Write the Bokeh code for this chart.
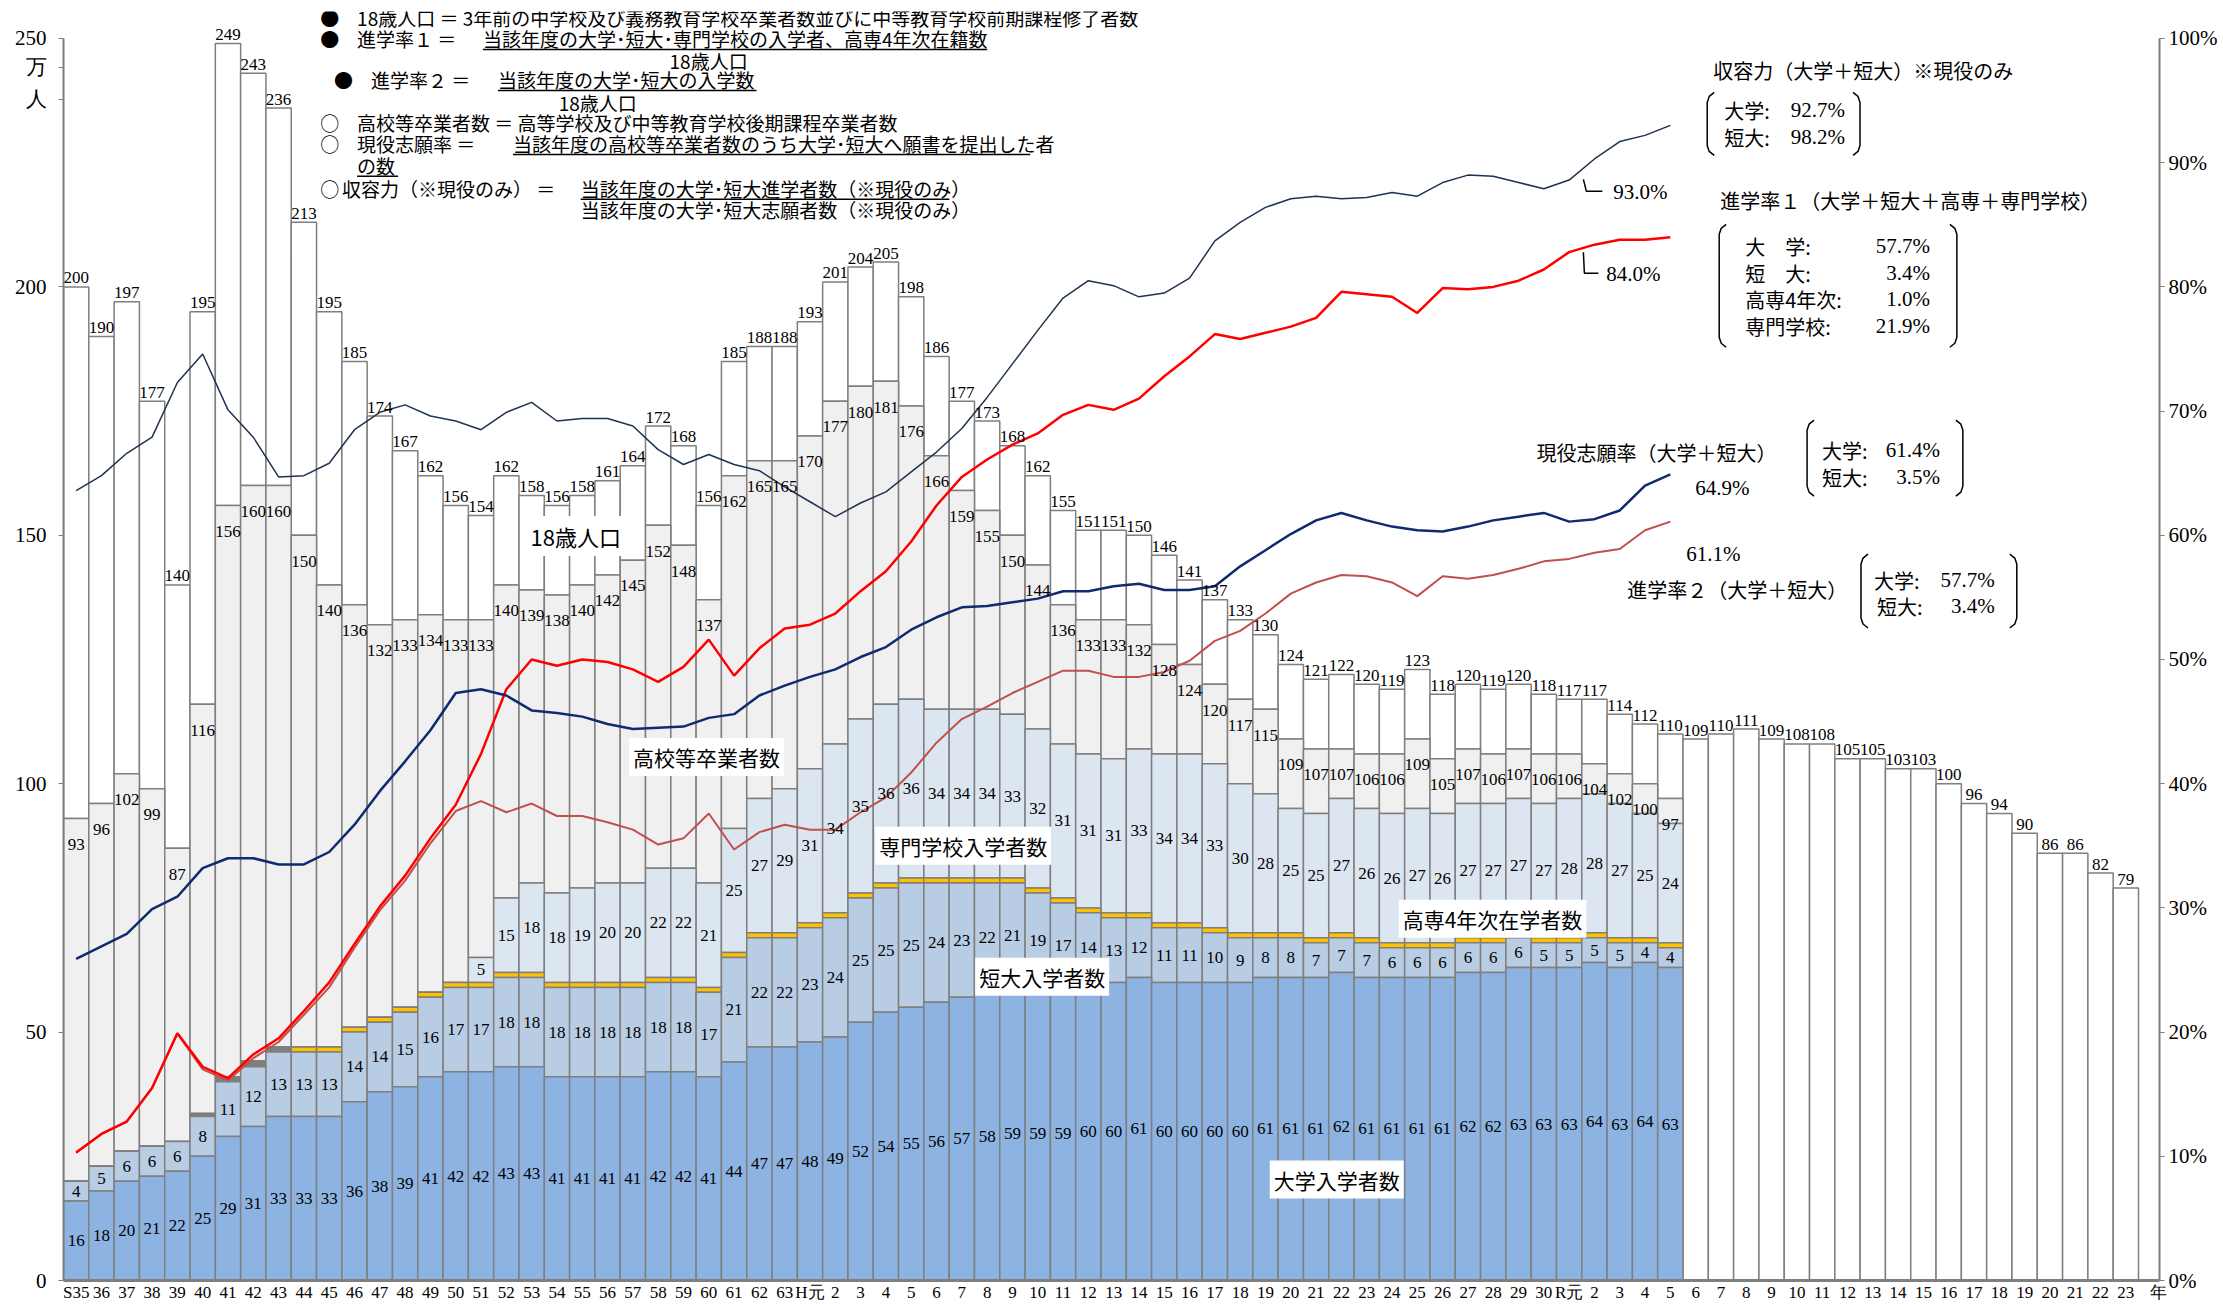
from bokeh.plotting import figure
from bokeh.models import Range1d, LinearAxis, FixedTicker, Label, PrintfTickFormatter
from bokeh.core.properties import value
from bokeh.embed import file_html
from bokeh.resources import INLINE

# ---------------- data ----------------
x_labels = ["35","36","37","38","39","40","41","42","43","44","45","46","47","48","49","50","51","52","53","54",
            "55","56","57","58","59","60","61","62","63",
            "元","2","3","4","5","6","7","8","9","10","11","12","13","14","15","16","17","18","19","20",
            "21","22","23","24","25","26","27","28","29","30",
            "元","2","3","4","5",
            "6","7","8","9","10","11","12","13","14","15","16","17","18","19","20","21","22","23"]
era_labels = ["S", "H", "R"]
era_index = [0, 29, 59]
year_unit = "年"
y_unit = ["万", "人"]

pop18 = [200,190,197,177,140,195,249,243,236,213,195,185,174,167,162,156,154,162,158,156,
         158,161,164,172,168,156,185,188,188,
         193,201,204,205,198,186,177,173,168,162,155,151,151,150,146,141,137,133,130,124,
         121,122,120,119,123,118,120,119,120,118,
         117,117,114,112,110,
         109,110,111,109,108,108,105,105,103,103,100,96,94,90,86,86,82,79]
grads = [93,96,102,99,87,116,156,160,160,150,140,136,132,133,134,133,133,140,139,138,
         140,142,145,152,148,137,162,165,165,
         170,177,180,181,176,166,159,155,150,144,136,133,133,132,128,124,120,117,115,109,
         107,107,106,106,109,105,107,106,107,106,
         106,104,102,100,97]
univ = [16,18,20,21,22,25,29,31,33,33,33,36,38,39,41,42,42,43,43,41,
        41,41,41,42,42,41,44,47,47,
        48,49,52,54,55,56,57,58,59,59,59,60,60,61,60,60,60,60,61,61,
        61,62,61,61,61,61,62,62,63,63,
        63,64,63,64,63]
jc = [4,5,6,6,6,8,11,12,13,13,13,14,14,15,16,17,17,18,18,18,
      18,18,18,18,18,17,21,22,22,
      23,24,25,25,25,24,23,22,21,19,17,14,13,12,11,11,10,9,8,8,
      7,7,7,6,6,6,6,6,6,5,
      5,5,5,4,4]
kosen = [0,0,0,0,0,0.6,1.0,1.2,1.0,1,1,1,1,1,1,1,1,1,1,1,
         1,1,1,1,1,1,1,1,1,
         1,1,1,1,1,1,1,1,1,1,1,1,1,1,1,1,1,1,1,1,
         1,1,1,1,1,1,1,1,1,1,
         1,1,1,1,1]
voc = [0,0,0,0,0,0,0,0,0,0,0,0,0,0,0,0,5,15,18,18,
       19,20,20,22,22,21,25,27,29,
       31,34,35,36,36,34,34,34,33,32,31,31,31,33,34,34,33,30,28,25,
       25,27,26,26,27,26,27,27,27,27,
       28,28,27,25,24]

shuyo = [63.6,64.8,66.6,67.9,72.3,74.6,70.1,67.9,64.7,64.8,65.8,68.5,69.9,70.5,69.6,69.2,68.5,69.9,70.7,69.2,
         69.4,69.4,68.8,66.9,65.7,66.5,65.7,65.2,63.9,
         62.7,61.5,62.6,63.5,65.1,66.7,68.6,71.1,73.8,76.5,79.1,80.5,80.1,79.2,79.5,80.7,83.7,85.2,86.4,87.1,
         87.3,87.1,87.2,87.6,87.3,88.4,89.0,88.9,88.4,87.9,
         88.6,90.3,91.7,92.2,93.0]
shingaku1 = [10.3,11.8,12.8,15.5,19.9,17.2,16.3,18.2,19.5,21.7,24.0,27.1,30.1,32.6,35.6,38.3,42.4,47.6,50.0,49.5,
             50.0,49.8,49.2,48.2,49.4,51.6,48.7,50.9,52.5,
             52.8,53.7,55.5,57.1,59.5,62.4,64.7,66.1,67.3,68.2,69.7,70.5,70.1,71.0,72.8,74.4,76.2,75.8,76.3,76.8,
             77.5,79.6,79.4,79.2,77.9,79.9,79.8,80.0,80.5,81.4,
             82.8,83.4,83.8,83.8,84.0]
shingaku2 = [10.3,11.8,12.8,15.5,19.9,17.0,16.1,17.9,19.2,21.4,23.6,26.8,29.8,32.2,35.2,37.8,38.6,37.7,38.4,37.4,
             37.4,36.9,36.3,35.1,35.6,37.6,34.7,36.1,36.7,
             36.3,36.3,37.7,38.9,40.9,43.3,45.2,46.2,47.3,48.2,49.1,49.1,48.6,48.6,49.0,49.9,51.5,52.3,53.7,55.3,
             56.2,56.8,56.7,56.2,55.1,56.7,56.5,56.8,57.3,57.9,
             58.1,58.6,58.9,60.4,61.1]
genneki = [25.9,26.9,27.9,29.9,30.9,33.2,34.0,34.0,33.5,33.5,34.5,36.7,39.4,41.8,44.3,47.3,47.6,47.1,45.9,45.7,
           45.4,44.8,44.4,44.5,44.6,45.3,45.6,47.1,47.9,
           48.6,49.2,50.2,51.0,52.4,53.4,54.2,54.3,54.6,54.9,55.5,55.5,55.9,56.1,55.6,55.6,55.9,57.5,58.8,60.1,
           61.2,61.8,61.2,60.7,60.4,60.3,60.7,61.2,61.5,61.8,
           61.1,61.3,62.0,64.0,64.9]

# ---------------- layout helpers ----------------
NARROW = "Liberation Sans Narrow"
JP = "Noto Sans CJK JP"
GRAY = "#7F7F7F"

W, H = 2220, 1304
FRAME_L, FRAME_B = 63, 1281
YMAX = 255.43
XMAX = 82.33
PCT_SCALE = 2.5


def X(px):
    return (px - FRAME_L) / 25.34 - 0.5


def Y(py):
    return (FRAME_B - py) / 4.972


p = figure(width=W, height=H, x_range=Range1d(-0.5, XMAX), y_range=Range1d(0, YMAX),
           output_backend="svg", toolbar_location=None,
           min_border_left=63, min_border_right=58, min_border_top=11, min_border_bottom=23)
p.extra_y_ranges = {"pct": Range1d(0, YMAX / PCT_SCALE)}
p.xgrid.visible = False
p.ygrid.visible = False
p.outline_line_color = None
p.background_fill_color = "white"

# left axis (unit "万人" shown as the top-most tick labels, as in the reference)
unit_pos = [Y(67), Y(99)]
ly = p.yaxis[0]
ly.ticker = FixedTicker(ticks=[0, 50, 100, 150, 200, 250] + unit_pos)
ly.major_label_overrides = {unit_pos[0]: y_unit[0], unit_pos[1]: y_unit[1]}
ly.bounds = (0, 250)
ly.axis_line_color = GRAY
ly.axis_line_width = 2
ly.major_tick_line_color = GRAY
ly.major_tick_out = 5
ly.major_tick_in = 0
ly.minor_tick_line_color = None
ly.major_label_standoff = 12
ly.major_label_text_font = NARROW
ly.major_label_text_font_size = "21px"
ly.major_label_text_color = "black"

# right axis
ry = LinearAxis(y_range_name="pct", ticker=FixedTicker(ticks=[0, 10, 20, 30, 40, 50, 60, 70, 80, 90, 100]),
                formatter=PrintfTickFormatter(format="%d%%"), bounds=(0, 100))
ry.axis_line_color = GRAY
ry.axis_line_width = 2
ry.major_tick_line_color = GRAY
ry.major_tick_out = 5
ry.major_tick_in = 0
ry.minor_tick_line_color = None
ry.major_label_standoff = 4
ry.major_label_text_font = NARROW
ry.major_label_text_font_size = "21px"
ry.major_label_text_color = "black"
p.add_layout(ry, "right")

# bottom axis: year numbers (era letter prefixed at the first year of each era) + "年"
n_all = len(pop18)
n = len(grads)
year_pos = XMAX - 0.03
overrides = {i: lab for i, lab in enumerate(x_labels)}
for e, idx in zip(era_labels, era_index):
    overrides[idx] = e + x_labels[idx]
overrides[year_pos] = year_unit
xa = p.xaxis[0]
xa.ticker = FixedTicker(ticks=list(range(n_all)) + [year_pos])
xa.major_label_overrides = overrides
xa.axis_line_color = GRAY
xa.axis_line_width = 3
xa.major_tick_out = 0
xa.major_tick_in = 0
xa.minor_tick_line_color = None
xa.major_label_standoff = 2
xa.major_label_text_font = NARROW
xa.major_label_text_font_size = "17px"
xa.major_label_text_color = "black"

# ---------------- stacked bars ----------------
xs = list(range(n))
xs_all = list(range(n_all))
b2 = [u + j for u, j in zip(univ, jc)]
b3 = [a + k for a, k in zip(b2, kosen)]
b4 = [a + v for a, v in zip(b3, voc)]
kosen_colors = [GRAY if 5 <= i <= 8 else "#FFC000" for i in xs]
pop_bottom = grads + [0] * (n_all - n)

bar_kw = dict(width=1.0, line_color=GRAY, line_width=1.5)
p.vbar(x=xs_all, bottom=pop_bottom, top=pop18, fill_color="white", **bar_kw)
p.vbar(x=xs, bottom=b4, top=grads, fill_color="#F0F0F0", **bar_kw)
p.vbar(x=xs, bottom=b3, top=b4, fill_color="#DCE6F1", **bar_kw)
p.vbar(x=xs, bottom=b2, top=b3, fill_color=kosen_colors, **bar_kw)
p.vbar(x=xs, bottom=univ, top=b2, fill_color="#B8CCE4", **bar_kw)
p.vbar(x=xs, bottom=0, top=univ, fill_color="#8DB3E2", **bar_kw)

# ---------------- lines ----------------
p.line(xs, shingaku2, y_range_name="pct", line_color="#C0504D", line_width=2)
p.line(xs, shingaku1, y_range_name="pct", line_color="#FF0000", line_width=2.5)
p.line(xs, genneki, y_range_name="pct", line_color="#0F2A6E", line_width=2.5)
p.line(xs, shuyo, y_range_name="pct", line_color="#1F3350", line_width=1.5)

# ---------------- value labels ----------------
tkw = dict(text_font=value(NARROW), text_font_size="17px", text_color="black", text_align="center")
p.text(x=xs_all, y=[v + 0.7 for v in pop18], text=[str(v) for v in pop18], text_baseline="bottom", **tkw)
p.text(x=xs, y=[g - 5.2 for g in grads], text=[str(v) for v in grads], text_baseline="middle", **tkw)
p.text(x=xs, y=[u / 2 for u in univ], text=[str(v) for v in univ], text_baseline="middle", **tkw)
p.text(x=xs, y=[u + j / 2 for u, j in zip(univ, jc)], text=[str(v) for v in jc], text_baseline="middle", **tkw)
vx = [i for i in xs if voc[i] > 0]
p.text(x=vx, y=[b3[i] + voc[i] / 2 for i in vx], text=[str(voc[i]) for i in vx], text_baseline="middle", **tkw)


# ---------------- annotations ----------------
def lab(text, px, py, size=19, align="left", font=JP, bg=None):
    kw = {}
    if bg:
        kw = dict(background_fill_color=bg, padding=4)
    p.add_layout(Label(x=X(px), y=Y(py), text=text, text_font=font, text_font_size=f"{size}px",
                       text_align=align, text_baseline="middle", text_color="black", **kw))


def pline(pts, color="black", width=1.5):
    p.line([X(a) for a, b in pts], [Y(b) for a, b in pts], line_color=color, line_width=width)


def bracket(x0, y0, x1, y1):
    pline([(x0 + 7, y0), (x0 + 2, y0 + 4), (x0, y0 + 10), (x0, y1 - 10), (x0 + 2, y1 - 4), (x0 + 7, y1)])
    pline([(x1 - 7, y0), (x1 - 2, y0 + 4), (x1, y0 + 10), (x1, y1 - 10), (x1 - 2, y1 - 4), (x1 - 7, y1)])


# formula block
lab("●", 320, 17); lab("18歳人口 ＝ 3年前の中学校及び義務教育学校卒業者数並びに中等教育学校前期課程修了者数", 357, 17)
lab("●", 320, 38); lab("進学率１ ＝", 357, 38)
lab("当該年度の大学･短大･専門学校の入学者、高専4年次在籍数", 483, 38)
lab("18歳人口", 709, 60, align="center")
lab("●", 334, 79); lab("進学率２ ＝", 371, 79)
lab("当該年度の大学･短大の入学数", 498, 79)
lab("18歳人口", 598, 102, align="center")
lab("○", 320, 122); lab("高校等卒業者数 ＝ 高等学校及び中等教育学校後期課程卒業者数", 357, 122)
lab("○", 320, 143); lab("現役志願率 ＝", 357, 143)
lab("当該年度の高校等卒業者数のうち大学･短大へ願書を提出した者", 513, 143)
lab("の数", 357, 165)
lab("○", 320, 188); lab("収容力（※現役のみ） ＝", 342, 188)
lab("当該年度の大学･短大進学者数（※現役のみ）", 581, 188)
lab("当該年度の大学･短大志願者数（※現役のみ）", 581, 209)
for (xa0, xa1, yy) in [(483, 988, 49), (498, 757, 90), (513, 1031, 154), (357, 398, 176), (581, 950, 199)]:
    pline([(xa0, yy), (xa1, yy)], width=1.5)

# series name labels
lab("18歳人口", 576, 536, size=22, align="center", bg="white")
lab("高校等卒業者数", 707, 757, size=21, align="center", bg="white")
lab("専門学校入学者数", 964, 846, size=21, align="center", bg="white")
lab("短大入学者数", 1043, 977, size=21, align="center", bg="white")
lab("高専4年次在学者数", 1494, 919, size=21, align="center", bg="white")
lab("大学入学者数", 1338, 1180, size=21, align="center", bg="white")

# right-hand annotations
lab("収容力（大学＋短大）※現役のみ", 1715, 70, size=20)
bracket(1709, 92, 1862, 155)
lab("大学:", 1726, 110, size=20); lab("92.7%", 1847, 110, size=21, align="right", font=NARROW)
lab("短大:", 1726, 137, size=20); lab("98.2%", 1847, 137, size=21, align="right", font=NARROW)
pline([(1585, 179), (1588, 191), (1604, 191)])
lab("93.0%", 1615, 192, size=21, font=NARROW)

lab("進学率１（大学＋短大＋高専＋専門学校）", 1722, 200, size=20)
bracket(1721, 224, 1959, 347)
for name, val, yy in [("大　学:", "57.7%", 246), ("短　大:", "3.4%", 273),
                      ("高専4年次:", "1.0%", 299), ("専門学校:", "21.9%", 326)]:
    lab(name, 1747, yy, size=20)
    lab(val, 1932, yy, size=21, align="right", font=NARROW)
pline([(1585, 252), (1586, 273), (1600, 273)])
lab("84.0%", 1608, 274, size=21, font=NARROW)

lab("現役志願率（大学＋短大）", 1538, 452, size=20)
lab("64.9%", 1697, 488, size=21, font=NARROW)
bracket(1809, 420, 1965, 496)
lab("大学:", 1824, 450, size=20); lab("61.4%", 1942, 450, size=21, align="right", font=NARROW)
lab("短大:", 1824, 477, size=20); lab("3.5%", 1942, 477, size=21, align="right", font=NARROW)

lab("61.1%", 1688, 554, size=21, font=NARROW)
lab("進学率２（大学＋短大）", 1629, 589, size=20)
bracket(1863, 554, 2019, 628)
lab("大学:", 1876, 580, size=20); lab("57.7%", 1997, 580, size=21, align="right", font=NARROW)
lab("短大:", 1879, 606, size=20); lab("3.4%", 1997, 606, size=21, align="right", font=NARROW)

open("out.html", "w").write(file_html(p, INLINE))
